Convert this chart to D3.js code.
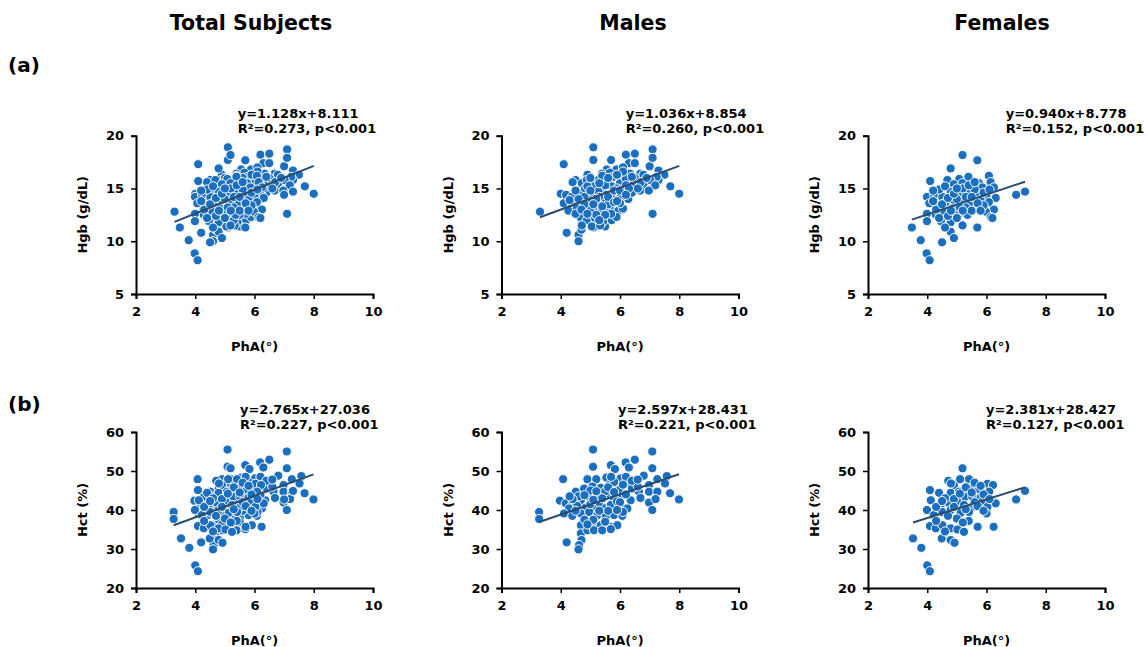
<!DOCTYPE html>
<html>
<head>
<meta charset="utf-8">
<script src="https://cdn.jsdelivr.net/npm/d3@7"></script>
<style>
  body { margin: 0; background: #fff; }
  text { font-family: "DejaVu Sans", Verdana, sans-serif; font-weight: bold; fill: #000; }
</style>
</head>
<body>
<svg id="chart" width="1147" height="647"></svg>
<script>
// column titles and row tags
var columns = ["Total Subjects", "Males", "Females"];
var rowTags = ["(a)", "(b)"];

// PhA (deg) vs Hgb (g/dL)
var maleHgb = [[3.3,12.8],[4.1,17.3],[4.2,10.8],[4.0,14.5],[4.1,13.6],[4.2,14.4],[4.4,14.0],[4.4,12.9],[4.5,15.8],[4.6,10.6],[4.6,10.0],[4.7,11.1],[4.7,12.0],[4.7,12.7],[4.9,12.0],[4.9,16.3],[5.0,15.5],[5.1,18.9],[5.1,17.7],[5.1,11.3],[5.2,11.8],[5.5,11.4],[5.7,17.7],[5.7,12.0],[5.9,12.3],[6.1,13.0],[6.2,18.2],[6.3,17.4],[6.5,18.3],[6.5,17.4],[6.3,14.1],[6.6,16.1],[6.8,15.3],[7.0,17.1],[7.0,14.9],[7.1,18.7],[7.1,17.9],[7.1,12.6],[7.2,15.3],[7.3,16.7],[7.5,16.3],[7.7,15.2],[8.0,14.5],[7.3,15.8],
  [5.55,16.8],[5.88,16.8],[6.1,17.0],[5.39,16.4],[5.66,16.5],[6.0,16.2],[6.34,16.4],[6.68,16.4],[7.24,16.1],[4.71,15.5],[4.99,15.5],[5.27,15.8],[5.55,15.8],[5.77,16.1],[6.28,15.7],[6.57,15.9],[6.79,16.3],[7.02,15.8],[7.19,15.3],[4.18,14.4],[4.37,14.2],[4.66,14.5],[4.82,15.0],[5.1,15.2],[5.44,15.0],[5.72,15.2],[6.0,15.5],[6.17,14.8],[6.45,15.2],[6.68,14.8],[6.97,14.8],[4.99,14.5],[5.27,14.7],[5.55,14.4],[5.83,14.6],[6.05,14.5],[6.28,14.0],[4.37,13.4],[4.66,13.7],[4.93,13.9],[5.21,13.6],[5.49,13.9],[5.77,14.0],[6.0,14.1],[4.26,12.9],[4.54,13.1],[4.82,13.3],[5.1,12.9],[5.38,12.8],[5.66,13.1],[5.94,12.9],[4.66,12.3],[4.88,12.0],[5.16,12.2],[5.44,11.9],[5.72,12.0],[5.88,12.3],[6.1,13.1],[4.71,11.5],[5.05,11.4],[5.33,11.5],[6.4,15.5],[4.88,15.8],
  [4.4,15.6],[4.8,14.2],[5.0,13.0],[5.3,14.2],[5.6,13.5],[5.9,15.0],[6.2,15.9],[6.5,16.0],[5.4,16.2],[5.8,14.8],[4.5,12.6],[5.2,12.5],[6.0,13.6],[6.4,14.6],[4.9,15.2],[5.5,15.3],[6.1,16.6],[6.7,15.6],[4.3,13.9],[5.7,12.6],
  [4.6,14.0],[4.8,13.5],[5.0,14.8],[5.2,14.0],[5.4,13.3],[5.6,14.2],[5.8,13.7],[6.0,14.8],[6.2,15.3],[6.4,16.1],[6.6,15.0],[5.3,15.5],[5.6,16.0],[5.9,16.3],[4.5,14.8],[4.7,13.0],[5.1,13.5],[5.5,12.5],[5.9,13.8],[6.3,15.0],[6.9,16.0],[4.9,12.6],[5.3,12.0],[6.2,14.4],[5.0,16.0]];

var femaleHgb = [[5.19,18.17],[5.69,17.67],[4.79,16.9],[4.1,15.7],[4.68,15.8],[5.08,15.9],[5.39,16.1],[6.08,16.2],[4.9,15.4],[5.19,15.5],[5.47,15.3],[5.75,15.5],[5.86,15.1],[6.14,15.6],[6.25,15.1],[3.99,14.2],[4.23,14.4],[4.51,14.2],[4.79,14.7],[5.08,14.5],[5.36,14.7],[5.64,14.4],[6.0,14.4],[6.31,14.1],[4.07,13.6],[4.35,13.4],[4.62,13.7],[4.9,13.9],[5.19,13.6],[5.47,13.7],[5.8,13.9],[6.08,13.7],[6.25,13.0],[3.99,12.6],[4.29,12.5],[4.57,12.8],[4.84,13.1],[5.08,12.6],[5.36,12.5],[5.98,12.8],[6.14,12.3],[3.99,11.9],[4.46,11.9],[4.79,11.8],[5.19,11.5],[5.69,11.3],[4.79,10.9],[3.48,11.3],[3.78,10.1],[4.5,9.9],[4.9,10.3],[3.98,8.85],[4.08,8.2],[6.2,12.2],[7.0,14.4],[7.3,14.7],
  [4.4,14.9],[4.7,12.4],[5.0,14.0],[5.3,13.2],[5.6,14.9],[5.9,13.4],[4.6,15.2],[5.2,15.0],[5.5,12.9],[4.3,13.0],
  [4.5,13.5],[4.7,14.1],[4.9,14.5],[5.1,13.2],[5.3,14.2],[5.5,14.2],[5.7,13.6],[5.9,14.6],[6.1,14.9],[4.2,13.8],[4.4,12.2],[4.8,12.9],[5.0,12.2],[5.2,12.9],[5.4,15.3],[5.6,15.6],[5.8,12.9],[4.6,11.3],[5.0,15.0],[4.2,14.8]];

// PhA (deg) vs Hct (%)
var maleHct = [[5.09,55.5],[5.09,51.1],[7.09,55.0],[7.09,50.7],[4.08,47.9],[5.69,51.5],[6.19,52.2],[6.5,52.9],[6.3,50.9],[5.83,50.5],[6.8,48.8],[7.26,47.9],[7.58,48.7],[5.54,48.3],[4.9,47.9],[5.2,47.9],[6.02,48.1],[6.53,47.4],[6.98,46.4],[7.52,46.8],[4.51,44.7],[4.79,45.5],[5.07,46.0],[5.35,45.7],[5.63,46.4],[5.91,46.0],[6.24,46.8],[6.64,44.7],[6.98,44.7],[7.26,44.7],[7.69,44.3],[7.99,42.7],[6.69,43.1],[6.98,41.9],[7.2,42.8],[7.09,40.0],[3.97,42.4],[4.17,41.7],[4.39,41.4],[4.68,42.5],[4.96,43.4],[5.24,43.8],[5.52,43.8],[5.8,43.1],[6.08,43.8],[6.36,42.5],[4.28,40.4],[4.56,41.0],[4.84,40.6],[5.12,40.4],[5.4,40.8],[5.69,41.3],[6.02,40.8],[6.25,40.4],[3.27,39.5],[3.27,37.7],[4.11,39.1],[4.39,38.5],[4.68,39.1],[4.96,39.5],[5.24,38.7],[5.52,38.3],[5.8,38.7],[6.08,38.5],[4.68,36.1],[5.07,36.5],[5.35,36.1],[5.69,35.7],[5.91,36.1],[4.68,34.0],[4.9,34.8],[5.12,34.8],[5.4,34.8],[5.69,35.1],[4.7,32.3],[4.62,31.0],[4.2,31.7],[4.6,29.9],
  [5.0,45.0],[5.5,44.8],[6.0,45.2],[6.4,45.5],[5.3,42.0],[5.9,42.2],[4.6,43.5],[6.6,46.0],[5.1,37.5],[5.6,39.8],[6.2,48.5],[5.8,47.2],[4.4,42.8],[6.1,39.5],
  [4.8,43.8],[5.0,41.5],[5.2,44.8],[5.4,43.0],[5.6,45.8],[5.8,44.6],[6.0,42.0],[6.2,44.0],[6.4,47.5],[4.5,39.8],[4.8,37.5],[5.3,39.8],[5.5,37.0],[5.9,40.0],[6.6,47.8],[4.3,43.5],[5.1,42.6],[5.7,48.5],[6.1,46.5],[4.9,36.3]];

var femaleHct = [[5.19,50.7],[4.09,45.1],[4.4,44.4],[4.71,47.5],[4.9,46.4],[5.11,47.9],[5.41,47.9],[5.47,45.5],[5.75,45.3],[6.03,46.7],[6.22,46.4],[6.09,44.7],[6.31,41.7],[4.79,44.4],[5.07,44.7],[5.28,43.4],[5.52,43.4],[5.8,43.2],[4.12,42.5],[4.45,41.3],[4.74,41.7],[5.02,42.1],[5.24,41.3],[5.52,40.8],[5.86,42.1],[6.03,40.8],[3.99,40.0],[4.22,38.7],[4.51,39.5],[4.79,40.0],[5.13,39.3],[5.41,39.5],[6.0,39.1],[6.24,35.7],[4.09,35.9],[4.29,35.3],[4.51,36.1],[4.79,35.3],[5.02,35.0],[5.24,34.4],[5.7,35.7],[3.52,32.7],[3.8,30.3],[4.49,32.7],[4.79,32.3],[4.92,31.6],[4.0,25.8],[4.09,24.3],[7.0,42.7],[7.3,44.9],
  [4.6,43.0],[5.0,37.8],[5.3,45.8],[5.6,42.0],[4.3,40.8],[5.9,44.0],[4.9,42.8],[5.4,37.2],
  [4.5,42.3],[4.7,38.5],[4.9,40.8],[5.1,44.2],[5.3,40.2],[5.5,44.5],[5.7,41.0],[5.9,39.8],[6.1,42.8],[4.3,37.2],[4.8,46.8],[5.2,36.8],[5.6,47.0],[4.6,34.5],[5.8,46.2]];

// regression: slope, intercept, R2 (total, males, females)
var hgbFit = [[1.128, 8.111, 0.273], [1.036, 8.854, 0.260], [0.940, 8.778, 0.152]];
var hctFit = [[2.765, 27.036, 0.227], [2.597, 28.431, 0.221], [2.381, 28.427, 0.127]];

var xTicks = [2, 4, 6, 8, 10];
var hgbTicks = [5, 10, 15, 20];
var hctTicks = [20, 30, 40, 50, 60];

var svg = d3.select("#chart");
var blue = "#1b6fbe", lineCol = "#2b4a6c";

var colLeft = [136, 501.5, 868], plotW = 237;
var titleX = [251, 633, 1002];
var rows = [
  { tag: rowTags[0], tagY: 72, label: "Hgb (g/dL)", ticks: hgbTicks, dom: [5, 20], range: [294, 135.7],
    sets: [maleHgb.concat(femaleHgb), maleHgb, femaleHgb], fit: hgbFit, eqX: [237.7, 625.7, 1005.7] },
  { tag: rowTags[1], tagY: 411, label: "Hct (%)", ticks: hctTicks, dom: [20, 60], range: [588, 432],
    sets: [maleHct.concat(femaleHct), maleHct, femaleHct], fit: hctFit, eqX: [240, 618, 986] }
];

svg.selectAll(".coltitle")
    .data(columns)
  .enter().append("text")
    .attr("x", function(d, i) { return titleX[i]; })
    .attr("y", 30)
    .attr("text-anchor", "middle")
    .style("font-size", "20.5px")
    .text(function(d) { return d; });

rows.forEach(function(row, r) {
  svg.append("text")
      .attr("x", 8)
      .attr("y", row.tagY)
      .style("font-size", "20px")
      .text(row.tag);

  var y = d3.scaleLinear().domain(row.dom).range(row.range);

  columns.forEach(function(c, k) {
    var x = d3.scaleLinear().domain([2, 10]).range([colLeft[k], colLeft[k] + plotW]);
    var g = svg.append("g");

    g.append("g")
        .attr("transform", "translate(0," + row.range[0] + ")")
        .call(d3.axisBottom(x).tickValues(xTicks).tickSize(5).tickPadding(8).tickFormat(d3.format("d")));
    g.append("g")
        .attr("transform", "translate(" + colLeft[k] + ",0)")
        .call(d3.axisLeft(y).tickValues(row.ticks).tickSize(5).tickPadding(7).tickFormat(d3.format("d")));

    g.selectAll(".domain").attr("stroke", "#000").attr("stroke-width", 2);
    g.selectAll(".tick line").attr("stroke", "#000").attr("stroke-width", 1.5);
    g.selectAll(".tick text").style("font-size", "13px").style("font-family", "DejaVu Sans").style("font-weight", "bold").attr("fill", "#000");

    g.append("text")
        .attr("x", colLeft[k] + plotW / 2)
        .attr("y", row.range[0] + 57)
        .attr("text-anchor", "middle")
        .style("font-size", "13px")
        .text("PhA(°)");

    g.append("text")
        .attr("transform", "translate(" + (colLeft[k] - 49) + "," + ((row.range[0] + row.range[1]) / 2) + ") rotate(-90)")
        .attr("text-anchor", "middle")
        .style("font-size", "13px")
        .text(row.label);

    var pts = row.sets[k];
    g.selectAll(".dot")
        .data(pts)
      .enter().append("circle")
        .attr("cx", function(d) { return x(d[0]); })
        .attr("cy", function(d) { return y(d[1]); })
        .attr("r", 4.6)
        .attr("fill", blue)
        .attr("stroke", "#fff")
        .attr("stroke-width", 1);

    var f = row.fit[k];
    var ext = d3.extent(pts, function(d) { return d[0]; });
    g.append("line")
        .attr("x1", x(ext[0])).attr("y1", y(f[0] * ext[0] + f[1]))
        .attr("x2", x(ext[1])).attr("y2", y(f[0] * ext[1] + f[1]))
        .attr("stroke", lineCol)
        .attr("stroke-width", 2);

    var eq = g.append("text").style("font-size", "13px");
    eq.append("tspan")
        .attr("x", row.eqX[k]).attr("y", row.range[1] - 18)
        .text("y=" + f[0].toFixed(3) + "x+" + f[1].toFixed(3));
    eq.append("tspan")
        .attr("x", row.eqX[k]).attr("y", row.range[1] - 3)
        .text("R²=" + f[2].toFixed(3) + ", p<0.001");
  });
});
</script>
</body>
</html>
